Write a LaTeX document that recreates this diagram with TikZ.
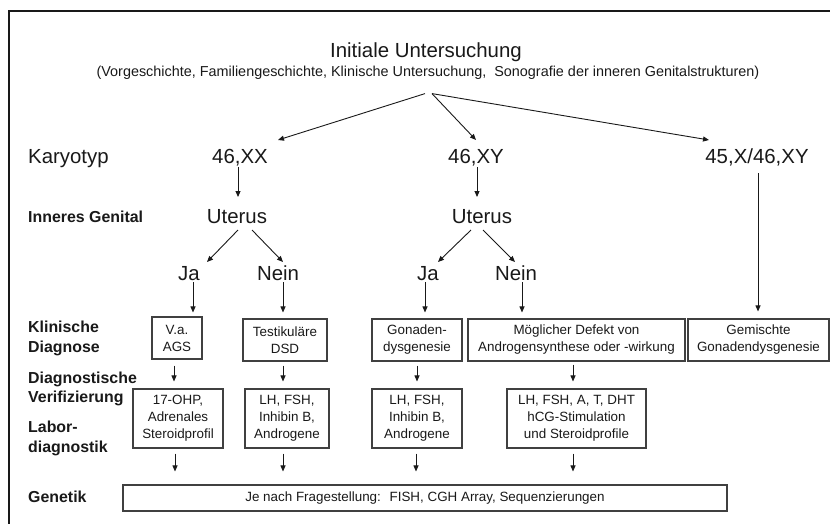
\documentclass[tikz,border=0pt]{standalone}
\usepackage{fontspec}
\setmainfont{Liberation Sans}
\usetikzlibrary{arrows.meta,calc}
\tikzset{
  big/.style={font=\fontsize{20.4}{24}\selectfont, inner sep=0pt, text height=14.6pt, text depth=4pt, text=black!90},
  subt/.style={font=\fontsize{14.4}{17}\selectfont, inner sep=0pt, text height=10.4pt, text depth=3pt, text=black!90},
  lab/.style={font=\bfseries\fontsize{15.9}{19.5}\selectfont, anchor=west, align=left, inner sep=0pt, text=black!90},
  box/.style={draw=black!75, line width=1.1pt, font=\fontsize{13.4}{17}\selectfont, align=center, inner sep=0pt, text=black!90},
  arr/.style={-{Triangle[length=6pt,width=5pt]}, line width=0.9pt, black!90},
  frame/.style={line width=2.6pt, black!90}
}
\begin{document}
\begin{tikzpicture}[x=1pt,y=-1pt]
\useasboundingbox (0,0) rectangle (830,523);
\clip (0,0) rectangle (830,523);
\draw[frame] (9,560) -- (9,11) -- (870,11) -- (870,560);

% title
\node[big] (tit) at (426,51.7) {Initiale Untersuchung};
\node[subt] (sub) at (428,72.3) {(Vorgeschichte, Familiengeschichte, Klinische Untersuchung,~ Sonografie der inneren Genitalstrukturen)};

% row labels
\node[big, anchor=west] (kary) at (28,157.7) {Karyotyp};
\node[lab] (igen) at (28,217) {Inneres Genital};
\node[lab] (klin) at (28,338.5) {Klinische\\Diagnose};
\node[lab] (diag) at (28,389) {Diagnostische\\Verifizierung};
\node[lab] (labo) at (28,438.5) {Labor-\\diagnostik};
\node[lab] (gene) at (28,497.3) {Genetik};

% karyotypes
\node[big] (xx) at (240,157.7) {46,XX};
\node[big] (xy) at (476,157.7) {46,XY};
\node[big] (mos) at (757,157.7) {45,X/46,XY};

% uterus
\node[big] (utl) at (237,217.7) {Uterus};
\node[big] (utr) at (482,217.7) {Uterus};

% ja / nein
\node[big] (jal) at (189,275) {Ja};
\node[big] (neinl) at (278,275) {Nein};
\node[big] (jar) at (428,275) {Ja};
\node[big] (neinr) at (516,275) {Nein};

% clinical diagnosis boxes
\node[box, minimum width=50pt, minimum height=42pt] (vaags) at (177,338) {V.a.\\AGS};
\node[box, minimum width=84pt, minimum height=42pt] (testik) at (285,340) {Testikuläre\\DSD};
\node[box, minimum width=90pt, minimum height=42pt] (gonad) at (417,340) {Gonaden-\\dysgenesie};
\node[box, minimum width=217pt, minimum height=42pt] (moegl) at (576.5,340) {Möglicher Defekt von\\Androgensynthese oder -wirkung};
\node[box, minimum width=141pt, minimum height=42pt] (gem) at (758.5,340) {Gemischte\\Gonadendysgenesie};

% lab boxes
\node[box, minimum width=90pt, minimum height=59pt] (ohp) at (178,418.5) {17-OHP,\\Adrenales\\Steroidprofil};
\node[box, minimum width=84pt, minimum height=59pt] (lhl) at (287,418.5) {LH, FSH,\\Inhibin B,\\Androgene};
\node[box, minimum width=90pt, minimum height=59pt] (lhr) at (417,418.5) {LH, FSH,\\Inhibin B,\\Androgene};
\node[box, minimum width=139pt, minimum height=59pt] (lhat) at (576.5,418.5) {LH, FSH, A, T, DHT\\hCG-Stimulation\\und Steroidprofile};

% genetics box
\node[box, minimum width=604pt, minimum height=26pt] (gen) at (425,498) {Je nach Fragestellung:~ FISH, CGH Array, Sequenzierungen};

% arrows from the title
\draw[arr] ($(sub.south)+(-3,14.4)$) -- ($(xx)+(38,-17.7)$);
\draw[arr] ($(sub.south)+(4,14.4)$) -- ($(xy)+(0,-17.7)$);
\draw[arr] ($(sub.south)+(4,14.4)$) -- ($(mos)+(-48,-17.7)$);

% karyotype -> uterus / gemischte
\draw[arr] ($(xx)+(-2,9.3)$) -- ($(utl)+(1,-20.7)$);
\draw[arr] ($(xy)+(1,9.3)$) -- ($(utr)+(-5,-20.7)$);
\draw[arr] ($(mos)+(1,15.3)$) -- ($(gem.north)+(-0.5,-7)$);

% uterus -> ja / nein
\draw[arr] ($(utl)+(1,12.3)$) -- ($(jal)+(18,-13)$);
\draw[arr] ($(utl)+(15,12.3)$) -- ($(neinl)+(5,-13)$);
\draw[arr] ($(utr)+(-11,12.3)$) -- ($(jar)+(10,-13)$);
\draw[arr] ($(utr)+(1,12.3)$) -- ($(neinr)+(-1,-13)$);

% ja / nein -> diagnosis
\draw[arr] ($(jal)+(4,7)$) -- ($(vaags.north)+(16,-4)$);
\draw[arr] ($(neinl)+(5,7)$) -- ($(testik.north)+(-2,-6)$);
\draw[arr] ($(jar)+(-3,7)$) -- ($(gonad.north)+(8,-6)$);
\draw[arr] ($(neinr)+(6,7)$) -- ($(moegl.north)+(-54.5,-6)$);

% diagnosis -> lab
\draw[arr] ($(vaags.south)+(-3,6)$) -- ($(ohp.north)+(-4,-7)$);
\draw[arr] ($(testik.south)+(-2,4)$) -- ($(lhl.north)+(-4,-7)$);
\draw[arr] ($(gonad.south)+(0,4)$) -- ($(lhr.north)+(0,-7)$);
\draw[arr] ($(moegl.south)+(-3.5,3)$) -- ($(lhat.north)+(-3.5,-7)$);

% lab -> genetics
\draw[arr] ($(ohp.south)+(-3,5)$) -- ($(ohp.south|-gen.north)+(-3,-13)$);
\draw[arr] ($(lhl.south)+(-4,5)$) -- ($(lhl.south|-gen.north)+(-4,-13)$);
\draw[arr] ($(lhr.south)+(-1,5)$) -- ($(lhr.south|-gen.north)+(-1,-13)$);
\draw[arr] ($(lhat.south)+(-3.5,5)$) -- ($(lhat.south|-gen.north)+(-3.5,-13)$);
\end{tikzpicture}
\end{document}
